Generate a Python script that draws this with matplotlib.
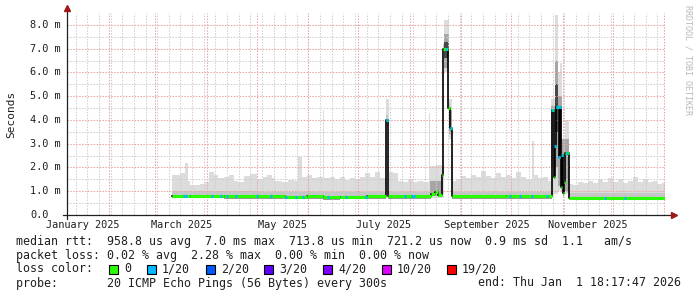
import numpy as np
import matplotlib
matplotlib.use('Agg')
from matplotlib import pyplot as plt
from matplotlib.patches import Rectangle
import matplotlib.transforms as mtransforms

# time axis in days since 2025-01-01 00:00 (graph spans the last 360 days)
x_start, x_end = 5.76, 365.76
data_end = 365.6

# light smoke: segment start (days), top and bottom of the ping spread (ms)
smoke_start = [69.0, 73.5, 76.5, 78.5, 80.0, 85.5, 88.5, 91.0, 94.0, 96.5,
               100.0, 103.5, 106.0, 108.5, 112.5, 116.0, 120.0, 123.5, 126.0, 129.0,
               131.0, 135.0, 139.0, 143.0, 145.0, 147.0, 150.0, 153.0, 156.0, 159.8,
               160.4, 164.0, 167.0, 170.0, 173.0, 176.0, 179.0, 182.0, 185.0, 188.0,
               191.0, 194.0, 197.6, 199.4, 202.0, 205.0, 208.0, 211.0, 214.0, 217.0,
               220.0, 223.5, 224.1, 228.0, 231.2, 232.3, 235.3, 237.4, 238.0, 240.0,
               243.0, 246.0, 249.0, 252.0, 255.0, 258.0, 261.0, 264.0, 267.0, 270.0,
               273.0, 276.0, 279.0, 282.0, 285.5, 286.7, 289.0, 292.0, 295.0, 297.2,
               299.4, 301.2, 302.3, 303.7, 305.2, 307.8, 310.0, 313.0, 316.0, 319.0,
               322.0, 325.0, 328.0, 331.0, 334.0, 337.0, 340.0, 343.0, 346.0, 349.0,
               352.0, 355.0, 358.0, 361.0, 364.0]
smoke_hi = [1.68, 1.75, 2.20, 1.45, 1.25, 1.30, 1.40, 1.82, 1.70, 1.55,
            1.62, 1.68, 1.45, 1.40, 1.65, 1.72, 1.50, 1.62, 1.70, 1.55,
            1.45, 1.40, 1.48, 1.42, 2.45, 1.60, 1.68, 1.55, 1.62, 4.40,
            1.55, 1.62, 1.50, 1.58, 1.48, 1.55, 1.52, 1.60, 1.75, 1.62,
            1.80, 1.55, 4.90, 1.80, 1.75, 1.45, 1.40, 1.48, 1.38, 1.45,
            1.40, 4.30, 2.05, 2.10, 2.00, 8.20, 4.90, 2.65, 1.45, 1.50,
            1.65, 1.55, 1.70, 1.60, 1.85, 1.65, 1.55, 1.75, 1.60, 1.70,
            1.55, 1.80, 1.60, 1.50, 3.10, 1.70, 1.55, 1.62, 1.45, 4.90,
            8.40, 6.00, 6.40, 3.00, 4.00, 1.30, 1.25, 1.40, 1.35, 1.45,
            1.35, 1.50, 1.40, 1.55, 1.40, 1.50, 1.35, 1.45, 1.60, 1.40,
            1.50, 1.38, 1.45, 1.30, 1.35]
smoke_lo = [0.70] * 42 + [3.70] + [0.70] * 12 + [6.00, 3.20] + [0.70] * 22 + \
           [0.90, 0.90, 1.00, 1.00, 0.90, 0.90] + [0.66] * 20

# denser smoke around the spikes: start, end, bottom, top (ms)
mid_start = [224.1, 232.3, 235.3, 297.2, 299.4, 301.2, 303.7]
mid_end = [231.2, 235.3, 237.4, 299.4, 301.2, 303.7, 307.8]
mid_lo = [0.78, 6.20, 3.40, 2.00, 2.00, 1.20, 1.00]
mid_hi = [1.45, 7.60, 4.40, 4.60, 6.50, 5.00, 3.20]

dark_start = [232.3, 299.4, 301.8]
dark_end = [235.3, 301.2, 303.0]
dark_lo = [6.60, 3.50, 2.50]
dark_hi = [7.30, 5.50, 4.50]

# median rtt steps (ms)
med_start = [69.0, 80.0, 100.0, 120.0, 137.0, 150.0, 160.0, 170.0, 186.0, 197.7,
             199.0, 224.5, 227.0, 229.0, 231.2, 232.2, 235.0, 236.3, 237.2, 270.0,
             297.3, 298.7, 299.2, 300.0, 301.8, 302.4, 303.0, 303.6, 304.3, 305.0,
             305.5, 307.5]
med_ms = [0.80, 0.80, 0.79, 0.78, 0.76, 0.78, 0.75, 0.77, 0.78, 4.00,
          0.78, 0.90, 0.95, 0.85, 1.68, 6.98, 4.50, 3.65, 0.78, 0.78,
          4.42, 1.61, 2.90, 4.56, 2.45, 4.56, 1.19, 2.53, 0.91, 1.40,
          2.62, 0.73]

# samples with 1/20 packet loss
blue_day = [76.0, 77.5, 93.2, 98.4, 102.2, 107.3, 120.3, 128.4, 137.5, 143.5,
            147.5, 162.5, 173.6, 185.5, 198.3, 209.0, 213.5, 214.5, 233.8, 236.5,
            272.0, 278.0, 285.3, 294.3, 297.8, 299.5, 300.3, 301.6, 302.0, 302.6,
            303.8, 306.8, 329.5, 341.5]

loss_labels = ['0', '1/20', '2/20', '3/20', '4/20', '10/20', '19/20']
loss_colors = ['#26ff00', '#00b8ff', '#0059ff', '#5e00ff', '#7e00ff', '#dd00ff', '#ff0000']

month_starts = [31, 59, 90, 120, 151, 181, 212, 243, 273, 304, 334, 365]
month_labels = ['January 2025', 'March 2025', 'May 2025', 'July 2025',
                'September 2025', 'November 2025']
month_label_day = [15.5, 74.5, 135.5, 196.5, 258.5, 319.0]
ytick_ms = [0, 1, 2, 3, 4, 5, 6, 7, 8]
ytick_labels = ['0.0', '1.0 m', '2.0 m', '3.0 m', '4.0 m', '5.0 m', '6.0 m', '7.0 m', '8.0 m']

stats_lines = [
    "median rtt:  958.8 us avg  7.0 ms max  713.8 us min  721.2 us now  0.9 ms sd  1.1   am/s",
    "packet loss: 0.02 % avg  2.28 % max  0.00 % min  0.00 % now",
]
probe_line = "probe:       20 ICMP Echo Pings (56 Bytes) every 300s"
end_line = "end: Thu Jan  1 18:17:47 2026"

MONO = 'DejaVu Sans Mono'
W, H = 697, 297

#--------------------------------------------------------------------------------------------------
def step_xy(starts, vals, end):
    return np.append(starts, end), np.append(vals, vals[-1])
#--------------------------------------------------------------------------------------------------

fig = plt.figure(figsize=(W / 100, H / 100), dpi=100)
ax = fig.add_axes([67 / W, 1 - 215 / H, (665.4 - 67) / W, (215 - 13) / H])
ax.set_xlim(x_start, x_end)
ax.set_ylim(0, 8.5)
ax.axis('off')

# smoke
sx, shi = step_xy(smoke_start, smoke_hi, data_end)
_, slo = step_xy(smoke_start, smoke_lo, data_end)
ax.fill_between(sx, slo, shi, step='post', color='#dcdcdc', lw=0, zorder=1)

mx, my = step_xy(med_start, med_ms, data_end)
ax.fill_between(mx, my, my + 0.2, step='post', color='#c6c6c6', lw=0, zorder=1.1)
ax.fill_between(mx, my - 0.1, my, step='post', color='#9a9a9a', lw=0, zorder=1.1)

for s, e, lo, hi in zip(mid_start, mid_end, mid_lo, mid_hi):
    ax.fill_between([s, e], lo, hi, color='#a6a6a6', lw=0, zorder=1.2)
for s, e, lo, hi in zip(dark_start, dark_end, dark_lo, dark_hi):
    ax.fill_between([s, e], lo, hi, color='#484848', lw=0, zorder=1.3)

# grid
dots = (0, (1.4, 1.4))
week = 4.0
while week < x_end:
    if week > x_start:
        ax.axvline(week, color='#cfcfcf', lw=0.75, ls=dots, zorder=2)
    week += 7
for m in month_starts:
    ax.axvline(m, color='#eba3a3', lw=0.75, ls=dots, zorder=2.1)
for v in np.arange(0.5, 8.5, 1.0):
    ax.axhline(v, color='#cfcfcf', lw=0.75, ls=dots, zorder=2)
for v in ytick_ms[1:]:
    ax.axhline(v, color='#eba3a3', lw=0.75, ls=dots, zorder=2.1)

# median line + loss colour
ax.step(mx, my, where='post', color='black', lw=1.2, zorder=4)
med_end = med_start[1:] + [data_end]
ax.hlines(med_ms, med_start, med_end, colors=loss_colors[0], lw=2.2, zorder=5)
idx = np.searchsorted(med_start, blue_day, side='right') - 1
blue_val = np.array(med_ms)[idx]
ax.hlines(blue_val, np.array(blue_day) - 0.6, np.array(blue_day) + 0.6,
          colors=loss_colors[1], lw=2.2, zorder=6)

# axes with arrows
ax.plot([3.3, 369.5], [0, 0], color='#202020', lw=0.9, clip_on=False, zorder=7)
ax.plot([x_start, x_start], [-0.17, 8.65], color='#202020', lw=0.9, clip_on=False, zorder=7)
ax.plot([371.0], [0], marker='>', color='#a01818', ms=4, clip_on=False, zorder=8)
ax.plot([x_start], [8.72], marker='^', color='#a01818', ms=4, clip_on=False, zorder=8)

# tick labels
ytr = mtransforms.blended_transform_factory(fig.transFigure, ax.transData)
for v, lab in zip(ytick_ms, ytick_labels):
    ax.text(30 / W, v, lab, transform=ytr, ha='left', va='center',
            family=MONO, fontsize=7.4, color='#202020')
for d, lab in zip(month_label_day, month_labels):
    ax.text(d, -0.42, lab, ha='center', va='center', family=MONO,
            fontsize=7.4, color='#202020', clip_on=False)

fig.text(11 / W, 1 - 114 / H, 'Seconds', rotation=90, ha='center', va='center',
         family=MONO, fontsize=8, color='#202020')
fig.text(688 / W, 1 - 60 / H, 'RRDTOOL / TOBI OETIKER', rotation=270, ha='center',
         va='center', family=MONO, fontsize=6, color='#b8b8b8')

# legend / stats
for i, line in enumerate(stats_lines):
    fig.text(16 / W, 1 - (241 + 14 * i) / H, line, ha='left', va='center',
             family=MONO, fontsize=8.4, color='#202020')
fig.text(16 / W, 1 - 269 / H, 'loss color:', ha='left', va='center',
         family=MONO, fontsize=8.4, color='#202020')
box_x = [109, 147, 206, 264, 323, 382, 447]
for bx, c, lab in zip(box_x, loss_colors, loss_labels):
    fig.add_artist(Rectangle((bx / W, 1 - 274 / H), 9 / W, 9 / H, transform=fig.transFigure,
                             facecolor=c, edgecolor='black', lw=0.8))
    fig.text((bx + 15) / W, 1 - 269 / H, lab, ha='left', va='center',
             family=MONO, fontsize=8.4, color='#202020')
fig.text(16 / W, 1 - 283 / H, probe_line, ha='left', va='center',
         family=MONO, fontsize=8.4, color='#202020')
fig.text(681 / W, 1 - 283 / H, end_line, ha='right', va='center',
         family=MONO, fontsize=8.4, color='#202020')

fig.savefig('out.png', dpi=100, facecolor='white')
